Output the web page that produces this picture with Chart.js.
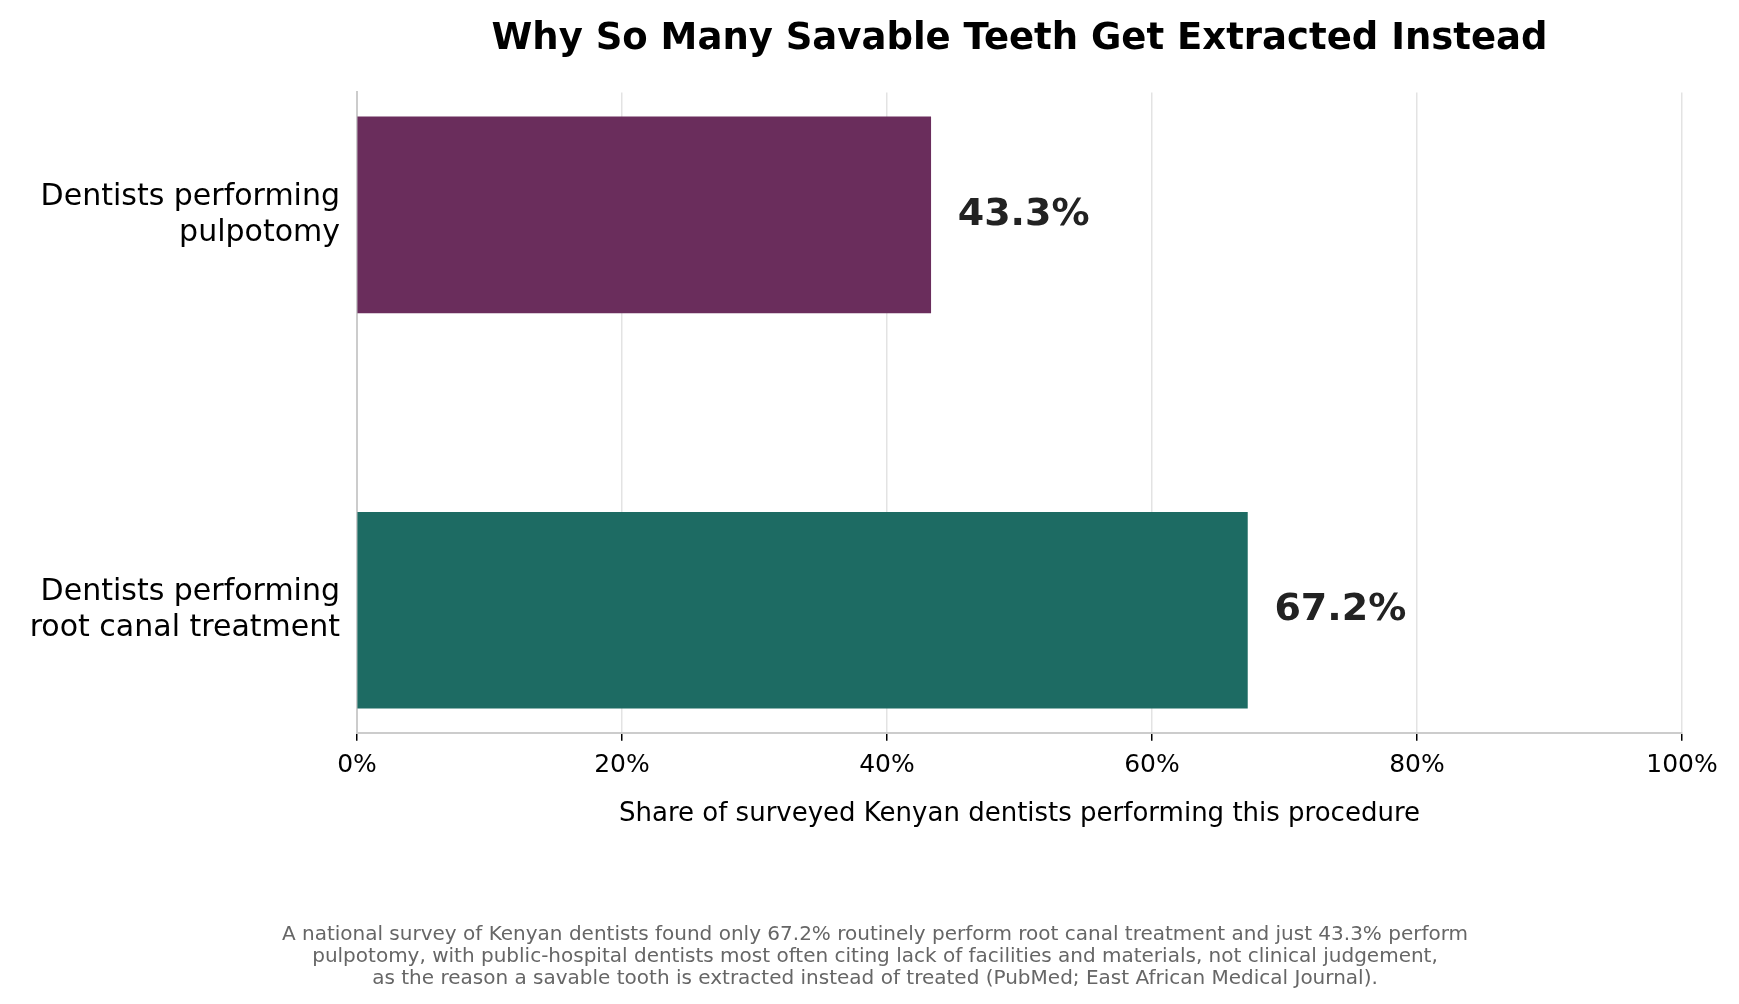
<!DOCTYPE html><html><head><script src="https://cdn.jsdelivr.net/npm/chart.js@4"></script>
<style>body{margin:0;background:#fff}#w{width:1739px;height:1004px}</style></head><body><div id="w"><canvas id="c"></canvas></div>
<script>
const categories=[["Dentists performing","pulpotomy"],["Dentists performing","root canal treatment"]];
const values=[43.3,67.2];
const colors=["#6a2d5c","#1d6b63"];
const xTicks=[0,20,40,60,80,100];
const footnote=["A national survey of Kenyan dentists found only 67.2% routinely perform root canal treatment and just 43.3% perform","pulpotomy, with public-hospital dentists most often citing lack of facilities and materials, not clinical judgement,","as the reason a savable tooth is extracted instead of treated (PubMed; East African Medical Journal)."];
const F="DejaVu Sans";
const extra={id:'extra',afterDatasetsDraw(ch){const c=ch.ctx;const m=ch.getDatasetMeta(0);c.save();c.font="bold 38px "+F;c.fillStyle="#222";c.textBaseline="middle";
m.data.forEach((b,i)=>c.fillText(values[i].toFixed(1)+"%",b.x+27,b.y));
c.font="20px "+F;c.fillStyle="#666";c.textAlign="center";c.textBaseline="alphabetic";footnote.forEach((t,i)=>c.fillText(t,875,940+i*22));c.restore();}};
new Chart(document.getElementById('c'),{type:'bar',data:{datasets:[{data:values.map((v,i)=>({x:v,y:i})),backgroundColor:colors,barThickness:196}]},
options:{indexAxis:'y',responsive:true,maintainAspectRatio:false,animation:false,
layout:{padding:{left:0,right:57,top:0,bottom:170}},
plugins:{legend:{display:false},tooltip:{enabled:false},title:{display:true,text:"Why So Many Savable Teeth Get Extracted Instead",font:{family:F,size:37,weight:'bold'},color:'#000',padding:{top:17,bottom:31},align:'center',fullSize:false}},
scales:{x:{type:'linear',min:0,max:100,afterBuildTicks:a=>{a.ticks=xTicks.map(v=>({value:v}))},ticks:{callback:v=>v+"%",font:{family:F,size:25},color:'#000',padding:10},
grid:{color:'#e3e3e3',lineWidth:1.5,tickColor:'#000',tickLength:8,drawTicks:true},border:{color:'#ccc',width:2},
title:{display:true,text:"Share of surveyed Kenyan dentists performing this procedure",font:{family:F,size:26},color:'#000',padding:{top:8}}},
y:{type:'linear',offset:false,min:-0.31,max:1.31,reverse:true,afterBuildTicks:a=>{a.ticks=[{value:0},{value:1}]},afterFit:a=>{a.width=357},
ticks:{callback:v=>categories[v],font:{family:F,size:30},color:'#000',padding:12},grid:{display:false,drawTicks:true,tickColor:'#000',tickLength:5},border:{color:'#ccc',width:2}}}},
plugins:[extra]});
</script></body></html>
